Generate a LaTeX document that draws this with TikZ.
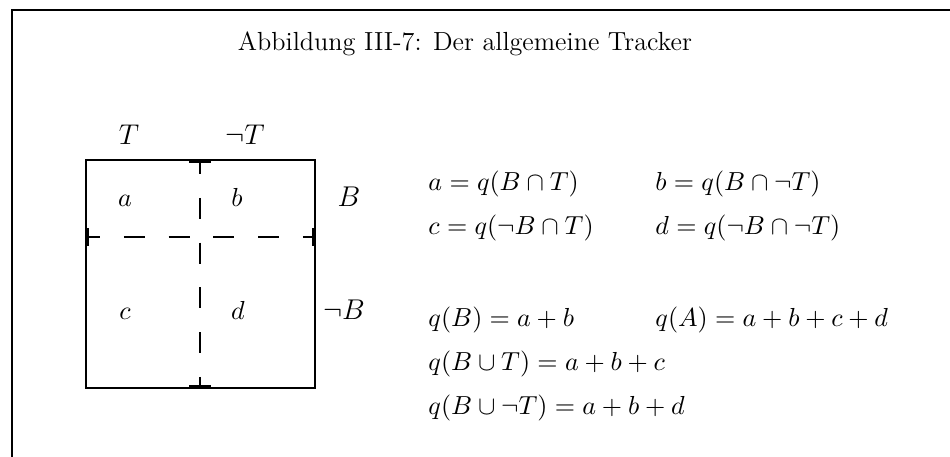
\documentclass[tikz,border=0pt]{standalone}
\usepackage{amsmath}
\usepackage{amssymb}
\usetikzlibrary{arrows.meta}
\tikzset{
  frame line/.style={line width=1.2pt},
  cell box/.style={line width=0.85pt},
  cell split/.style={line width=0.85pt, dash pattern=on 8.8pt off 10pt, dash phase=3.8pt},
  side label/.style={font=\fontsize{13.2}{16}\selectfont, inner sep=0pt, anchor=base},
  cell label/.style={font=\fontsize{11}{13}\selectfont, inner sep=0pt, anchor=base},
  formula/.style={font=\fontsize{11}{13}\selectfont, inner sep=0pt, anchor=base west}
}

\begin{document}
\begin{tikzpicture}[x=0.42pt, y=-0.42pt]
  \useasboundingbox (0,0) rectangle (950,457);
  \draw[frame line] (12,457) -- (12,10) -- (950,10);
  \node[inner sep=0pt, anchor=base, font=\fontsize{11}{13}\selectfont] (title) at (465,51) {Abbildung III-7: Der allgemeine Tracker};

  % the square
  \coordinate (nw) at (86,160);
  \coordinate (ne) at (315,160);
  \coordinate (sw) at (86,388);
  \coordinate (se) at (315,388);
  \coordinate (topmid) at (200,160);
  \coordinate (botmid) at (200,388);
  \coordinate (leftmid) at (86,237);
  \coordinate (rightmid) at (315,237);
  \draw[cell box] (nw) -- (ne) -- (se) -- (sw) -- cycle;
  \draw[cell split, {Bar[width=9.2pt, line width=1.2pt]}-{Bar[width=9.2pt, line width=1.2pt]}] (topmid) -- (botmid);
  \draw[cell split, {Bar[width=7.2pt, line width=1.2pt]}-{Bar[width=7.2pt, line width=1.2pt]}] (leftmid) -- (rightmid);

  \node[side label] (tlab) at (129,145) {$T$};
  \node[side label] (ntlab) at (245,145) {$\neg T$};
  \node[side label] (blab) at (349,207) {$B$};
  \node[side label] (nblab) at (344,320) {$\neg B$};

  \node[cell label] (ca) at (125,207) {$a$};
  \node[cell label] (cb) at (237,207) {$b$};
  \node[cell label] (cc) at (125,320) {$c$};
  \node[cell label] (cd) at (238,320) {$d$};

  % formulas
  \node[formula] (fa) at (428,191) {$a = q(B \cap T)$};
  \node[formula] (fb) at (655,191) {$b = q(B \cap \neg T)$};
  \node[formula] (fc) at (428,235) {$c = q(\neg B \cap T)$};
  \node[formula] (fd) at (655,235) {$d = q(\neg B \cap \neg T)$};
  \node[formula] (fqb) at (428,327) {$q(B) = a + b$};
  \node[formula] (fqa) at (655,327) {$q(A) = a + b + c + d$};
  \node[formula] (fqbt) at (428,371) {$q(B \cup T) = a + b + c$};
  \node[formula] (fqbnt) at (428,415) {$q(B \cup \neg T) = a + b + d$};
\end{tikzpicture}
\end{document}
